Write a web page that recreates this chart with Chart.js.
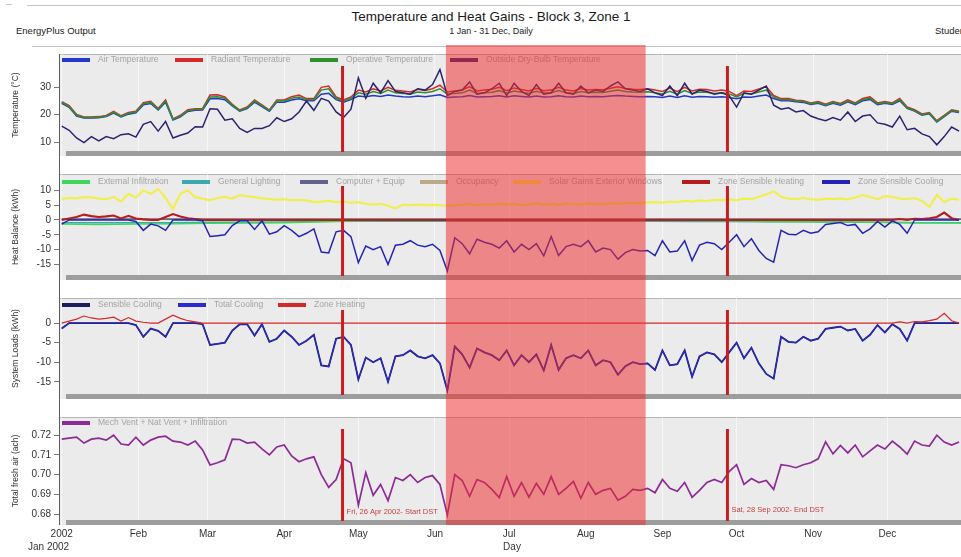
<!DOCTYPE html>
<html><head><meta charset="utf-8">
<script src="https://cdn.jsdelivr.net/npm/chart.js@4.4.1/dist/chart.umd.min.js"></script>
<style>
html,body{margin:0;padding:0;background:#fff;overflow:hidden;}
#wrap{position:relative;width:961px;height:557px;overflow:hidden;font-family:'Liberation Sans',Arial,sans-serif;color:#222;}
canvas{position:absolute;left:0;}
.t{position:absolute;white-space:nowrap;}
.hl{position:absolute;height:1px;background:#c4c4c4;}
</style></head><body>
<div id="wrap">
 <div class="hl" style="left:27px;top:5px;width:940px"></div>
 <div class="hl" style="left:6px;top:4px;width:6px"></div>
 <div class="hl" style="left:32px;top:46px;width:935px"></div>
 <div class="t" style="left:0;width:982px;top:9px;text-align:center;font-size:13.5px;color:#1a1a1a">Temperature and Heat Gains - Block 3, Zone 1</div>
 <div class="t" style="left:0;width:982px;top:26px;text-align:center;font-size:9px">1 Jan - 31 Dec, Daily</div>
 <div class="t" style="left:16px;top:25px;font-size:9.5px">EnergyPlus Output</div>
 <div class="t" style="left:935px;top:25px;font-size:9.5px">Student</div>
 <canvas id="c1" width="964" height="120" style="top:45px"></canvas>
 <canvas id="c2" width="964" height="124" style="top:165px"></canvas>
 <canvas id="c3" width="964" height="119" style="top:289px"></canvas>
 <canvas id="c4" width="964" height="149" style="top:408px"></canvas>
 <div class="t" style="left:28px;top:541px;font-size:10px;color:#333">Jan 2002</div>
</div>
<script>
// ---------- DATA ----------
const days = [0,3,6,9,12,15,18,21,24,27,30,33,36,39,42,45,48,51,54,57,60,63,66,69,72,75,78,81,84,87,
90,93,96,99,102,105,108,111,114,117,120,123,126,129,132,135,138,141,144,147,150,153,156,159,162,165,168,171,174,177,
180,183,186,189,192,195,198,201,204,207,210,213,216,219,222,225,228,231,234,237,240,243,246,249,252,255,258,261,264,267,
270,273,276,279,282,285,288,291,294,297,300,303,306,309,312,315,318,321,324,327,330,333,336,339,342,345,348,351,354,357,360,363];
const coarseDays = [0,15,30,45,60,75,90,105,120,135,150,165,180,195,210,225,240,255,270,285,300,315,330,345,364];
const monthStarts = [0,31,59,90,120,151,181,212,243,273,304,334];
const monthLabels = ['2002','Feb','Mar','Apr','May','Jun','Jul','Aug','Sep','Oct','Nov','Dec'];
const dstDays = [113.6, 269.3];
const dstLabels = ['Fri, 26 Apr 2002- Start DST','Sat, 28 Sep 2002- End DST'];
const summerBand = [155.4, 236.2];
const tempTicks = [10,20,30];
const heatTicks = [-15,-10,-5,0,5,10];
const loadTicks = [-15,-10,-5,0];
const airTicks = [0.68,0.69,0.70,0.71,0.72];

const tOutside = [15.8,14.3,11.5,9.8,12.0,10.4,12.0,11.2,12.7,13.0,
11.8,16.5,17.5,14.0,17.5,11.5,12.5,13.3,15.6,15.5,
22.2,22.0,18.0,18.5,15.0,13.5,15.0,15.0,16.0,18.9,
17.5,18.5,21.0,25.0,21.6,26.0,25.0,21.0,19.0,22.0,
33.5,26.0,31.5,28.0,32.5,28.5,28.0,27.5,29.5,29.0,
31.0,36.5,27.0,28.5,29.0,32.0,27.5,28.0,29.5,31.5,
27.0,31.5,28.5,27.0,31.0,27.5,28.0,31.5,28.0,27.5,
30.5,28.0,29.0,28.5,30.5,32.0,29.5,29.0,28.5,29.5,
28.0,27.0,30.5,27.0,31.5,27.5,29.0,28.5,27.5,28.0,
27.0,22.8,28.0,27.5,29.0,30.5,23.5,22.0,22.5,21.0,
21.5,19.5,18.5,17.8,19.0,18.0,21.0,17.5,19.5,20.0,
17.0,16.5,15.5,19.5,14.5,15.0,13.0,12.0,9.0,12.0,
15.5,14.0];
const tOperative = [24.5,23.0,19.8,19.0,19.0,19.1,19.5,20.9,19.4,20.5,
21.0,24.0,24.5,22.0,25.0,18.3,19.5,21.5,21.9,22.0,
26.5,26.6,26.0,23.5,21.5,22.5,25.0,23.3,21.5,25.0,
25.0,26.0,26.5,25.5,25.5,29.0,29.5,26.0,25.0,26.0,
28.0,27.5,28.5,27.8,29.0,28.0,27.8,27.5,28.3,28.0,
28.5,29.5,27.5,27.8,28.0,29.0,27.8,28.0,28.2,28.8,
27.9,28.7,28.2,27.8,28.6,27.9,28.0,28.8,28.0,27.8,
28.5,28.0,28.2,28.1,28.6,29.0,28.5,28.3,28.2,28.4,
28.0,27.6,28.6,27.5,28.8,27.8,28.3,28.2,27.8,28.0,
27.6,26.5,27.8,27.6,28.3,29.0,26.5,25.5,25.5,25.0,
24.8,24.0,24.5,23.5,24.5,23.8,25.0,24.0,25.5,26.0,
24.0,24.5,24.0,25.5,22.5,21.5,20.0,20.5,17.5,19.5,
21.5,21.0];
const tAir = [24.2,22.7,19.5,18.8,18.8,18.9,19.3,20.6,19.2,20.2,
20.7,23.6,24.1,21.7,24.6,18.1,19.2,21.2,21.6,21.7,
25.8,25.9,25.5,23.2,21.3,22.2,24.6,23.0,21.3,24.6,
24.6,25.4,25.8,25.1,25.1,27.5,27.8,25.5,24.6,25.5,
26.8,26.6,27.0,26.7,27.2,26.8,26.6,26.5,26.8,26.6,
26.9,27.3,26.3,26.5,26.6,27.0,26.5,26.6,26.7,26.9,
26.5,26.9,26.7,26.5,26.8,26.5,26.6,26.9,26.6,26.5,
26.8,26.6,26.7,26.6,26.8,27.0,26.8,26.7,26.6,26.7,
26.6,26.3,26.8,26.3,26.9,26.4,26.7,26.6,26.4,26.6,
26.3,25.8,26.5,26.4,26.8,27.2,25.9,25.1,25.1,24.7,
24.5,23.7,24.2,23.3,24.2,23.5,24.7,23.7,25.1,25.6,
23.7,24.2,23.7,25.1,22.3,21.3,19.8,20.3,17.3,19.3,
21.3,20.8];
const tRadiant = [24.8,23.3,20.1,19.2,19.2,19.3,19.7,21.2,19.6,20.8,
21.3,24.4,24.9,22.3,25.4,18.5,19.8,21.8,22.2,22.3,
27.2,27.3,26.5,23.8,21.7,22.8,25.4,23.6,21.7,25.4,
25.4,26.6,27.2,25.9,25.9,30.0,30.5,26.5,25.4,26.5,
29.0,28.3,29.5,28.7,30.0,28.9,28.7,28.3,29.3,28.9,
29.5,30.8,28.3,28.7,29.0,30.3,28.7,29.0,29.3,30.0,
28.8,29.8,29.2,28.7,29.7,28.8,29.0,30.0,29.0,28.7,
29.6,29.0,29.2,29.1,29.7,30.2,29.6,29.3,29.2,29.5,
29.0,28.5,29.7,28.4,30.0,28.7,29.3,29.2,28.7,29.0,
28.5,27.0,28.7,28.5,29.4,30.3,27.0,25.9,25.9,25.3,
25.1,24.3,24.8,23.8,24.8,24.1,25.4,24.3,25.9,26.5,
24.3,24.8,24.3,25.9,22.8,21.8,20.3,20.8,17.8,19.8,
21.8,21.3];
const coolingKWh = [-1.4,0,0,0,0,0,0,0,0,0,
-0.5,-3.5,-1.4,-2.0,-3.5,0,0,0,0,-0.3,
-5.6,-5.3,-5.0,-1.9,-0.3,-0.3,-3.2,-0.3,-4.8,-4.0,
-1.9,-3.5,-5.6,-4.5,-3.0,-10.8,-11.1,-4.0,-3.5,-5.6,
-14.4,-8.8,-10.0,-9.0,-15.0,-8.5,-8.2,-7.0,-8.5,-9.0,
-8.2,-10.3,-17.2,-6.0,-8.0,-11.4,-6.5,-7.5,-8.2,-9.5,
-7.0,-10.8,-8.2,-10.0,-8.0,-12.1,-5.6,-12.0,-9.0,-8.2,
-9.0,-7.0,-10.8,-9.5,-10.0,-13.2,-11.0,-10.0,-10.5,-10.3,
-12.0,-7.0,-10.8,-10.5,-7.0,-13.7,-8.5,-7.5,-8.0,-10.0,
-7.5,-5.0,-9.0,-6.3,-10.3,-13.0,-14.2,-3.5,-4.8,-5.0,
-3.5,-4.5,-4.0,-1.5,-1.2,-0.9,-1.9,-1.5,-4.5,-3.0,
-0.5,-2.4,-0.3,-1.5,-4.5,0,0,0,0,0,
0,0];
const heatingKWh = [0,0.5,1.0,1.8,1.3,1.0,1.2,1.5,0.5,1.4,
0.5,0.2,0,0,1.0,2.0,1.2,0.6,0.3,0,
0,0,0,0,0,0,0,0,0,0,
0,0,0,0,0,0,0,0,0,0,
0,0,0,0,0,0,0,0,0,0,
0,0,0,0,0,0,0,0,0,0,
0,0,0,0,0,0,0,0,0,0,
0,0,0,0,0,0,0,0,0,0,
0,0,0,0,0,0,0,0,0,0,
0,0,0,0,0,0,0,0,0,0,
0,0,0,0,0,0,0,0,0,0,
0,0,0,0.3,0,0.4,0.3,0.6,1.0,2.5,
0.6,0];
const solarKWh = [7.1,7.4,7.3,7.7,7.6,7.2,7.0,7.8,6.2,8.8,
7.5,10.0,8.8,10.4,7.5,3.7,8.8,10.0,7.7,7.2,
6.6,7.4,7.8,7.2,8.4,8.0,7.7,7.3,7.1,6.8,
7.0,6.6,6.8,6.6,6.0,6.2,6.4,6.0,6.2,5.8,
6.0,5.4,5.2,5.4,4.8,3.9,5.1,5.0,5.2,5.0,
5.1,5.0,4.8,5.0,5.2,5.4,5.0,5.3,5.1,5.5,
5.2,5.4,5.0,5.3,5.6,5.2,5.4,5.1,5.5,5.3,
5.2,5.6,5.4,5.3,5.7,5.5,5.6,5.8,5.6,5.9,
6.0,5.8,6.2,6.0,6.4,6.2,6.6,6.4,6.8,6.6,
7.0,6.6,7.2,7.0,7.8,8.6,9.7,7.8,7.2,7.0,
7.4,7.0,6.8,7.2,7.0,7.3,6.9,7.6,8.4,7.8,
7.0,8.0,7.8,7.2,7.0,7.4,6.4,4.4,8.4,6.0,
7.2,6.8];
const infiltrationKWh = [-1.4,-1.5,-1.4,-1.3,-1.1,-1.0,-0.9,-0.6,-0.3,-0.2,-0.2,-0.1,-0.1,-0.1,-0.1,-0.1,-0.2,-0.2,-0.3,-0.5,-0.6,-0.7,-0.8,-0.9,-1.0];
const lightingKWh = [-0.9,-0.9,-0.9,-0.9,-0.8,-0.8,-0.7,-0.5,-0.4,-0.4,-0.4,-0.4,-0.4,-0.4,-0.4,-0.4,-0.4,-0.5,-0.5,-0.6,-0.6,-0.7,-0.8,-0.9,-0.9];
const equipKWh = [0.2,0.2,0.2,0.2,0.2,0.2,0.2,0.2,0.2,0.2,0.2,0.2,0.2,0.2,0.2,0.2,0.2,0.2,0.2,0.2,0.2,0.2,0.2,0.2,0.2];
const occupancyKWh = [0.4,0.4,0.4,0.4,0.4,0.4,0.4,0.4,0.4,0.4,0.4,0.4,0.4,0.4,0.4,0.4,0.4,0.4,0.4,0.4,0.4,0.4,0.4,0.4,0.4];
const freshAirAch = [.7180,.7185,.7190,.7160,.7180,.7185,.7175,.7200,.7155,.7150,
.7190,.7150,.7175,.7190,.7195,.7170,.7165,.7150,.7170,.7125,
.7049,.7060,.7075,.7180,.7178,.7160,.7165,.7130,.7100,.7140,
.7150,.7095,.7065,.7080,.7090,.7000,.6935,.6975,.7080,.7060,
.6845,.7010,.6895,.6950,.6868,.6985,.6970,.7000,.6960,.6985,
.6995,.6950,.6795,.7000,.6970,.6890,.6975,.6960,.6925,.6883,
.6990,.6890,.6960,.6885,.6955,.6900,.6990,.6900,.6930,.6965,
.6880,.6960,.6900,.6920,.6930,.6870,.6890,.6925,.6920,.6930,
.6908,.6975,.6930,.6915,.6960,.6885,.6920,.6960,.6975,.6960,
.7015,.7050,.6950,.6980,.6960,.6970,.6925,.7050,.7045,.7035,
.7050,.7060,.7080,.7166,.7105,.7148,.7110,.7150,.7090,.7120,
.7150,.7130,.7170,.7140,.7104,.7170,.7150,.7145,.7200,.7165,
.7150,.7165];

// ---------- CHART ----------
Chart.defaults.font.family = "'Liberation Sans', Arial, sans-serif";
const FONT = "'Liberation Sans', Arial, sans-serif";
const pts = (xs, ys) => xs.map((x, i) => ({x: x, y: ys[i]}));

const deco = {
  id: 'deco',
  beforeDraw(chart, args, o) {
    const {ctx, chartArea: a} = chart;
    ctx.save();
    ctx.fillStyle = '#ebebeb';
    ctx.fillRect(a.left, a.top, a.right - a.left, a.bottom - a.top);
    ctx.fillStyle = '#b5b5b5';
    ctx.fillRect(a.left, a.top, a.right - a.left, 1);
    ctx.restore();
  },
  beforeDatasetsDraw(chart, args, o) {
    const {ctx, chartArea: a} = chart;
    ctx.save();
    ctx.fillStyle = '#9d9d9d';
    ctx.fillRect(a.left + 6, a.bottom - 5, a.right - a.left - 6, 5);
    ctx.restore();
  },
  afterDatasetsDraw(chart, args, o) {
    const {ctx, chartArea: a} = chart;
    ctx.save();
    ctx.font = '8.5px ' + FONT;
    ctx.textBaseline = 'middle';
    chart.data.datasets.forEach((ds, i) => {
      const lx = o.legendX[i];
      const ly = a.top + o.legendDy;
      ctx.strokeStyle = ds.borderColor; ctx.lineWidth = 4;
      ctx.beginPath(); ctx.moveTo(lx, ly); ctx.lineTo(lx + 28, ly); ctx.stroke();
      ctx.fillStyle = '#a4a4a4';
      ctx.fillText(ds.label, lx + 36, ly);
    });
    ctx.restore();
  },
  afterDraw(chart, args, o) {
    const {ctx, chartArea: a} = chart;
    const x = chart.scales.x;
    ctx.save();
    if (o.dstText) {
      ctx.font = '7.5px ' + FONT;
      ctx.fillStyle = '#c84040';
      ctx.textBaseline = 'middle';
      dstDays.forEach((d, i) => ctx.fillText(dstLabels[i], x.getPixelForValue(d) + 4, o.dstTextY[i]));
    }
    const x0 = x.getPixelForValue(summerBand[0]), x1 = x.getPixelForValue(summerBand[1]);
    const hb = o.hlBottom === 'area' ? a.bottom : chart.height;
    ctx.fillStyle = 'rgba(238,46,46,0.53)';
    ctx.fillRect(x0, 0, x1 - x0, hb);
    const at = o.axTop === 'area' ? a.top : 0;
    const ab = o.axBottom === 'area' ? a.bottom : chart.height;
    ctx.fillStyle = '#5e5e5e';
    ctx.fillRect(a.left - 1, at, 1, ab - at);
    ctx.fillStyle = '#c81e1e';
    dstDays.forEach(d => {
      const px = x.getPixelForValue(d);
      ctx.fillRect(px - 1.5, a.top + 12, 3, a.bottom - 4 - a.top - 12);
    });
    ctx.restore();
  }
};

function makeChart(id, p) {
  return new Chart(document.getElementById(id), {
    type: 'line',
    data: {datasets: p.datasets.map(d => ({
      label: d.label, data: pts(d.xs, d.ys), borderColor: d.color, backgroundColor: d.color,
      borderWidth: d.w || 1.5, pointRadius: 0, tension: 0, fill: false, order: d.order
    }))},
    options: {
      responsive: false, animation: false, devicePixelRatio: 1,
      layout: {padding: {top: p.padTop, bottom: p.padBottom, left: 0, right: 0}},
      plugins: {legend: {display: false}, tooltip: {enabled: false}, deco: p.deco},
      scales: {
        x: {
          type: 'linear', min: -0.7, max: 365,
          afterBuildTicks: s => { s.ticks = monthStarts.map(v => ({value: v})); },
          afterFit: s => { s.height = p.showX ? 32 : 0; },
          ticks: {display: !!p.showX, color: '#333', font: {size: 10}, padding: 3, maxRotation: 0, autoSkip: false,
                  callback: v => monthLabels[monthStarts.indexOf(v)]},
          grid: {drawTicks: false, color: 'rgba(255,255,255,0.55)', lineWidth: 1},
          border: {display: false},
          title: {display: !!p.showX, text: 'Day', color: '#333', font: {size: 10}, padding: {top: 0, bottom: 4}}
        },
        y: {
          type: 'linear', min: p.yMin, max: p.yMax,
          afterFit: s => { s.width = 60; },
          afterBuildTicks: s => { s.ticks = p.yTicks.map(v => ({value: v})); },
          ticks: {color: '#333', font: {size: 10}, padding: 3, callback: p.yFmt || (v => String(v))},
          grid: {drawOnChartArea: false, drawTicks: true, tickLength: 6, color: '#777'},
          border: {display: false},
          title: {display: true, text: p.yTitle, color: '#333', font: {size: 8.5}, padding: {top: 11, bottom: 0}}
        }
      }
    },
    plugins: [deco]
  });
}

makeChart('c1', {
  padTop: 5, padBottom: 3, yMin: 4.9, yMax: 42.2, yTicks: tempTicks, yTitle: 'Temperature (°C)',
  datasets: [
    {label: 'Air Temperature', xs: days, ys: tAir, color: '#2437c8', order: 2},
    {label: 'Radiant Temperature', xs: days, ys: tRadiant, color: '#d42a2a', order: 3},
    {label: 'Operative Temperature', xs: days, ys: tOperative, color: '#2f8f2f', order: 1},
    {label: 'Outside Dry-Bulb Temperature', xs: days, ys: tOutside, color: '#2b2370', order: 0}
  ],
  deco: {legendX: [62, 175, 310, 450], legendDy: 6, axTop: 'area', axBottom: 'canvas', hlBottom: 'canvas'}
});

makeChart('c2', {
  padTop: 5, padBottom: 6, yMin: -20.25, yMax: 15.5, yTicks: heatTicks, yTitle: 'Heat Balance (kWh)',
  datasets: [
    {label: 'External Infiltration', xs: coarseDays, ys: infiltrationKWh, color: '#3fd65c', order: 3},
    {label: 'General Lighting', xs: coarseDays, ys: lightingKWh, color: '#3aa9ad', order: 4},
    {label: 'Computer + Equip', xs: coarseDays, ys: equipKWh, color: '#62628f', order: 5},
    {label: 'Occupancy', xs: coarseDays, ys: occupancyKWh, color: '#bba98a', order: 6},
    {label: 'Solar Gains Exterior Windows', xs: days, ys: solarKWh, color: '#f2ee50', w: 2.2, order: 2},
    {label: 'Zone Sensible Heating', xs: days, ys: heatingKWh, color: '#b81c1c', w: 2.1, order: 1},
    {label: 'Zone Sensible Cooling', xs: days, ys: coolingKWh, color: '#2424b4', w: 1.5, order: 0}
  ],
  deco: {legendX: [62, 182, 300, 420, 513, 682, 822], legendDy: 8, axTop: 'canvas', axBottom: 'canvas', hlBottom: 'canvas'}
});

makeChart('c3', {
  padTop: 3, padBottom: 3, yMin: -19.4, yMax: 6.4, yTicks: loadTicks, yTitle: 'System Loads (kWh)',
  datasets: [
    {label: 'Sensible Cooling', xs: days, ys: coolingKWh, color: '#1c1c5e', w: 1.8, order: 2},
    {label: 'Total Cooling', xs: days, ys: coolingKWh, color: '#2a2ad0', w: 1.1, order: 1},
    {label: 'Zone Heating', xs: days, ys: heatingKWh, color: '#d42a2a', w: 1.2, order: 0}
  ],
  deco: {legendX: [62, 178, 278], legendDy: 7, axTop: 'canvas', axBottom: 'canvas', hlBottom: 'canvas'}
});

makeChart('c4', {
  padTop: 6, padBottom: 0, yMin: 0.67442, yMax: 0.72923, yTicks: airTicks, yTitle: 'Total fresh air (ach)',
  yFmt: v => Number(v).toFixed(2), showX: true,
  datasets: [
    {label: 'Mech Vent + Nat Vent + Infiltration', xs: days, ys: freshAirAch, color: '#8c2a96', w: 1.7, order: 0}
  ],
  deco: {legendX: [62], legendDy: 6, axTop: 'canvas', axBottom: 'area', hlBottom: 'area', dstText: true, dstTextY: [104, 102]}
});
</script>
</body></html>
